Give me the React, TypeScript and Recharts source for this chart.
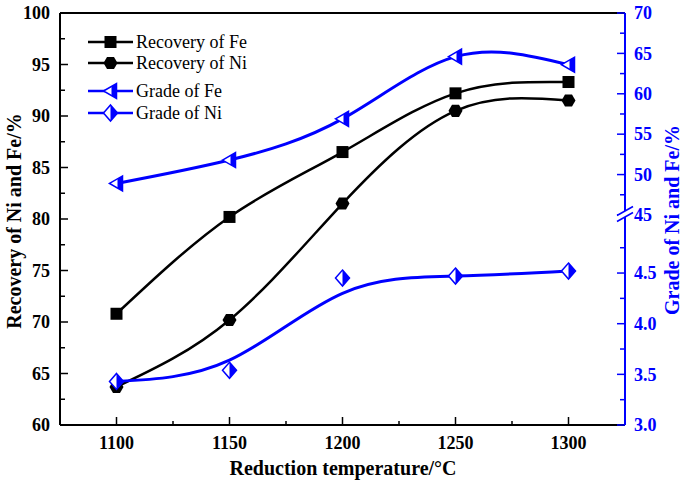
import React from "react";
import { LineChart, Line, XAxis, YAxis, ReferenceLine, Legend } from "recharts";

const temps = [1100, 1150, 1200, 1250, 1300];
const recoveryFe = [70.8, 80.2, 86.5, 92.2, 93.3];
const recoveryNi = [63.7, 70.2, 81.5, 90.5, 91.5];
const gradeFe = [48.9, 51.8, 56.9, 64.6, 63.6];
const gradeNi = [3.43, 3.54, 4.45, 4.47, 4.52];
// smoothed curve for the Ni grade at each temperature
const gradeNiFit = [3.43, 3.64, 4.3, 4.47, 4.52];

const xTicks = [1100, 1125, 1150, 1175, 1200, 1225, 1250, 1275, 1300];
const recTicks = [60, 62.5, 65, 67.5, 70, 72.5, 75, 77.5, 80, 82.5, 85, 87.5, 90, 92.5, 95, 97.5, 100];
const gradeLowTicks = [3.0, 3.25, 3.5, 3.75, 4.0, 4.25, 4.5, 4.75];
const gradeHighTicks = [45, 47.5, 50, 52.5, 55, 57.5, 60, 62.5, 65, 67.5, 70];

const data = temps.map((t, i) => ({
  temp: t,
  recoveryFe: recoveryFe[i],
  recoveryNi: recoveryNi[i],
  gradeFe: gradeFe[i],
  gradeNi: gradeNi[i],
  gradeNiFit: gradeNiFit[i],
}));

const FONT = '"Liberation Serif", "Times New Roman", serif';
const BLUE = "#0000ff";

const isMult = (v: number, step: number) =>
  Math.abs(v / step - Math.round(v / step)) < 1e-6;

// ---- markers ----
function Square({ cx, cy }: any) {
  return <rect x={cx - 6} y={cy - 6} width={12} height={12} fill="#000" />;
}

function Hexagon({ cx, cy }: any) {
  const r = 7;
  const pts = [0, 60, 120, 180, 240, 300]
    .map((a) => {
      const rad = (a * Math.PI) / 180;
      return `${cx + r * Math.cos(rad)},${cy + r * Math.sin(rad)}`;
    })
    .join(" ");
  return <polygon points={pts} fill="#000" />;
}

function HalfTriangle({ cx, cy }: any) {
  return (
    <g>
      <polygon
        points={`${cx - 7},${cy} ${cx + 6},${cy - 7.5} ${cx + 6},${cy + 7.5}`}
        fill="#fff"
        stroke={BLUE}
        strokeWidth={1.5}
      />
      <polygon
        points={`${cx + 1},${cy - 4.6} ${cx + 6},${cy - 7.5} ${cx + 6},${cy + 7.5} ${cx + 1},${cy + 4.6}`}
        fill={BLUE}
      />
    </g>
  );
}

function HalfDiamond({ cx, cy }: any) {
  return (
    <g>
      <polygon
        points={`${cx},${cy - 8} ${cx + 7},${cy} ${cx},${cy + 8} ${cx - 7},${cy}`}
        fill="#fff"
        stroke={BLUE}
        strokeWidth={1.5}
      />
      <polygon points={`${cx},${cy - 8} ${cx + 7},${cy} ${cx},${cy + 8}`} fill={BLUE} />
    </g>
  );
}

// ---- ticks (drawn inward) ----
function LeftTick({ x, y, payload }: any) {
  const v = payload.value;
  const major = isMult(v, 5);
  return (
    <g>
      <line x1={x} y1={y} x2={x + (major ? 8 : 5)} y2={y} stroke="#000" strokeWidth={1.5} />
      {major && (
        <text x={x - 10} y={y} dy="0.35em" textAnchor="end" fontFamily={FONT} fontWeight="bold" fontSize={18} fill="#000">
          {v}
        </text>
      )}
    </g>
  );
}

function BottomTick({ x, y, payload }: any) {
  const v = payload.value;
  const major = isMult(v, 50);
  return (
    <g>
      <line x1={x} y1={y} x2={x} y2={y - (major ? 8 : 4)} stroke="#000" strokeWidth={1.5} />
      {major && (
        <text x={x} y={y + 24} textAnchor="middle" fontFamily={FONT} fontWeight="bold" fontSize={18} fill="#000">
          {v}
        </text>
      )}
    </g>
  );
}

// shift pins both right-hand axes onto the same line
function makeRightTick(step: number, digits: number, shift: number) {
  return function RightTick({ x, y, payload }: any) {
    const v = payload.value;
    const major = isMult(v, step);
    const ax = x + shift;
    return (
      <g>
        <line x1={ax} y1={y} x2={ax - (major ? 8 : 5)} y2={y} stroke={BLUE} strokeWidth={1.5} />
        {major && (
          <text x={ax + 9} y={y} dy="0.35em" textAnchor="start" fontFamily={FONT} fontWeight="bold" fontSize={18} fill={BLUE}>
            {v.toFixed(digits)}
          </text>
        )}
      </g>
    );
  };
}
const LowTick = makeRightTick(0.5, 1, -1);
const HighTick = makeRightTick(5, 0, 0);

const legendItems = [
  { name: "Recovery of Fe", color: "#000", Marker: Square, y: 42 },
  { name: "Recovery of Ni", color: "#000", Marker: Hexagon, y: 63 },
  { name: "Grade of Fe", color: BLUE, Marker: HalfTriangle, y: 91 },
  { name: "Grade of Ni", color: BLUE, Marker: HalfDiamond, y: 113 },
];

function LegendBox() {
  return (
    <svg width={200} height={110} style={{ overflow: "visible" }}>
      {legendItems.map(({ name, color, Marker, y }) => (
        <g key={name} transform={`translate(-80,${-28})`}>
          <line x1={88} y1={y} x2={133} y2={y} stroke={color} strokeWidth={2.5} />
          <Marker cx={110.5} cy={y} />
          <text x={136} y={y} dy="0.35em" fontFamily={FONT} fontSize={18} fill="#000">
            {name}
          </text>
        </g>
      ))}
    </svg>
  );
}

export default function App() {
  return (
    <div style={{ position: "absolute", left: 0, top: 0, width: 685, height: 485, background: "#fff" }}>
      <LineChart width={685} height={485} data={data} margin={{ top: 13, right: 0, left: 0, bottom: 0 }}>
        <XAxis
          dataKey="temp"
          type="number"
          domain={[1075, 1325]}
          ticks={xTicks}
          interval={0}
          allowDataOverflow
          height={60}
          tickSize={0}
          tickMargin={0}
          tickLine={false}
          axisLine={{ stroke: "#000", strokeWidth: 2 }}
          tick={<BottomTick />}
          label={{
            content: () => (
              <text x={343} y={475} textAnchor="middle" fontFamily={FONT} fontWeight="bold" fontSize={20} fill="#000">
                Reduction temperature/°C
              </text>
            ),
          }}
        />
        <YAxis
          yAxisId="rec"
          orientation="left"
          type="number"
          domain={[60, 100]}
          ticks={recTicks}
          interval={0}
          allowDataOverflow
          width={60}
          tickSize={0}
          tickMargin={0}
          tickLine={false}
          axisLine={{ stroke: "#000", strokeWidth: 2 }}
          tick={<LeftTick />}
          label={{
            content: () => (
              <text x={21} y={221} transform="rotate(-90 21 221)" textAnchor="middle" fontFamily={FONT} fontWeight="bold" fontSize={20} fill="#000">
                Recovery of Ni and Fe/%
              </text>
            ),
          }}
        />
        <YAxis
          yAxisId="gradeHigh"
          orientation="right"
          type="number"
          domain={[19, 70]}
          ticks={gradeHighTicks}
          interval={0}
          allowDataOverflow
          width={1}
          tickSize={0}
          tickMargin={0}
          tickLine={false}
          axisLine={{ stroke: BLUE, strokeWidth: 2 }}
          tick={<HighTick />}
        />
        <YAxis
          yAxisId="gradeLow"
          orientation="right"
          type="number"
          domain={[3.0, 7.067]}
          ticks={gradeLowTicks}
          interval={0}
          allowDataOverflow
          width={59}
          tickSize={0}
          tickMargin={0}
          tickLine={false}
          axisLine={false}
          tick={<LowTick />}
          label={{
            content: () => (
              <text x={679} y={220} transform="rotate(-90 679 220)" textAnchor="middle" fontFamily={FONT} fontWeight="bold" fontSize={20} fill={BLUE}>
                Grade of Ni and Fe/%
              </text>
            ),
          }}
        />
        <ReferenceLine yAxisId="rec" y={100} stroke="#000" strokeWidth={2} />
        <Legend
          layout="vertical"
          align="center"
          verticalAlign="middle"
          wrapperStyle={{ left: 80, top: 28, width: 200, height: 110 }}
          content={() => <LegendBox />}
        />
        <Line
          yAxisId="rec"
          dataKey="recoveryFe"
          name="Recovery of Fe"
          type="natural"
          stroke="#000"
          strokeWidth={2.5}
          dot={(p: any) => <Square key={p.index} {...p} />}
          activeDot={false}
          isAnimationActive={false}
        />
        <Line
          yAxisId="rec"
          dataKey="recoveryNi"
          name="Recovery of Ni"
          type="natural"
          stroke="#000"
          strokeWidth={2.5}
          dot={(p: any) => <Hexagon key={p.index} {...p} />}
          activeDot={false}
          isAnimationActive={false}
        />
        <Line
          yAxisId="gradeHigh"
          dataKey="gradeFe"
          name="Grade of Fe"
          type="natural"
          stroke={BLUE}
          strokeWidth={3}
          dot={(p: any) => <HalfTriangle key={p.index} {...p} />}
          activeDot={false}
          isAnimationActive={false}
        />
        <Line
          yAxisId="gradeLow"
          dataKey="gradeNiFit"
          name="Grade of Ni fit"
          type="natural"
          stroke={BLUE}
          strokeWidth={3}
          dot={false}
          activeDot={false}
          legendType="none"
          isAnimationActive={false}
        />
        <Line
          yAxisId="gradeLow"
          dataKey="gradeNi"
          name="Grade of Ni"
          stroke="none"
          dot={(p: any) => <HalfDiamond key={p.index} {...p} />}
          activeDot={false}
          isAnimationActive={false}
        />
      </LineChart>
      {/* axis break mark on the right axis */}
      <svg width={685} height={485} style={{ position: "absolute", left: 0, top: 0, pointerEvents: "none" }}>
        <polygon points="618,215 632,207 632,213 618,221" fill="#fff" />
        <line x1={617} y1={215.5} x2={633} y2={206.5} stroke={BLUE} strokeWidth={1.5} />
        <line x1={617} y1={221.5} x2={633} y2={212.5} stroke={BLUE} strokeWidth={1.5} />
      </svg>
    </div>
  );
}
